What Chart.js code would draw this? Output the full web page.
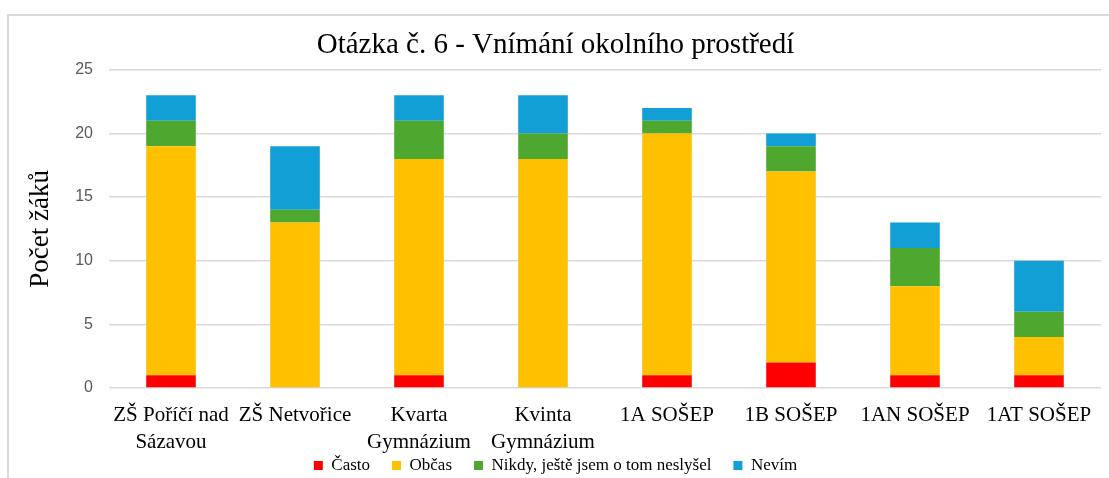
<!DOCTYPE html>
<html>
<head>
<meta charset="utf-8">
<script src="https://cdn.jsdelivr.net/npm/chart.js@4.4.1/dist/chart.umd.min.js"></script>
<style>
  html, body { margin: 0; padding: 0; background: #ffffff; }
  #wrap { position: relative; width: 1109px; height: 478px; overflow: hidden; }
  #frame { position: absolute; left: 7px; top: 14px; width: 1102px; height: 464px;
           border-left: 2px solid #d9d9d9; border-top: 2px solid #d9d9d9; box-sizing: border-box; }
  #box { position: absolute; left: 0; top: 0; width: 1109px; height: 478px; }
</style>
</head>
<body>
<div id="wrap">
  <div id="frame"></div>
  <div id="box"><canvas id="c"></canvas></div>
</div>
<script>
const categories = [
  ["ZŠ Poříčí nad", "Sázavou"],
  "ZŠ Netvořice",
  ["Kvarta", "Gymnázium"],
  ["Kvinta", "Gymnázium"],
  "1A SOŠEP",
  "1B SOŠEP",
  "1AN SOŠEP",
  "1AT SOŠEP"
];
const casto  = [1, 0, 1, 0, 1, 2, 1, 1];
const obcas  = [18, 13, 17, 18, 19, 15, 7, 3];
const nikdy  = [2, 1, 3, 2, 1, 2, 3, 2];
const nevim  = [2, 5, 2, 3, 1, 1, 2, 4];
const seriesNames = ["Často", "Občas", "Nikdy, ještě jsem o tom neslyšel", "Nevím"];
const seriesColors = ["#FF0000", "#FFC000", "#4EA72E", "#119FD6"];
const yTicks = [0, 5, 10, 15, 20, 25];
const chartTitle = "Otázka č. 6 - Vnímání okolního prostředí";
const yTitle = "Počet žáků";

const serif = "'Liberation Serif', 'Times New Roman', serif";
const sans = "'Liberation Sans', Arial, sans-serif";

const values = [casto, obcas, nikdy, nevim];
const datasets = values.map((v, i) => ({
  label: seriesNames[i],
  data: v,
  backgroundColor: seriesColors[i],
  borderWidth: 0,
  barPercentage: 0.4,
  categoryPercentage: 1.0
}));

new Chart(document.getElementById('c'), {
  type: 'bar',
  data: { labels: categories, datasets: datasets },
  options: {
    responsive: true,
    maintainAspectRatio: false,
    animation: false,
    layout: { padding: { left: 10, right: 8, top: 0, bottom: -6 } },
    plugins: {
      title: {
        display: true,
        text: chartTitle,
        color: '#000000',
        font: { family: serif, size: 29, weight: 'normal', lineHeight: 1.2 },
        padding: { top: 28, bottom: 7 }
      },
      legend: {
        display: true,
        position: 'bottom',
        title: {
          display: true,
          text: '',
          padding: 0,
          font: { family: serif, size: 47, lineHeight: 1 }
        },
        labels: {
          color: '#000000',
          font: { family: serif, size: 17 },
          boxWidth: 9,
          boxHeight: 9,
          padding: 22
        }
      },
      tooltip: { enabled: false }
    },
    scales: {
      x: {
        stacked: true,
        position: { y: 0 },
        grid: { display: false },
        border: { display: false },
        ticks: {
          color: '#000000',
          font: { family: serif, size: 21, lineHeight: 1.3 },
          padding: 6,
          autoSkip: false,
          maxRotation: 0,
          minRotation: 0
        }
      },
      y: {
        stacked: true,
        min: 0,
        max: 25,
        afterBuildTicks: (s) => { s.ticks = yTicks.map(v => ({ value: v })); },
        grid: { color: '#d9d9d9', lineWidth: 1.5, drawTicks: false },
        border: { display: false },
        ticks: {
          color: '#595959',
          font: { family: sans, size: 16 },
          padding: 16
        },
        title: {
          display: true,
          text: yTitle,
          color: '#000000',
          font: { family: serif, size: 27, lineHeight: 1.2 },
          padding: { top: 15, bottom: 0 }
        },
        afterFit: (s) => { s.width = 99; }
      }
    }
  }
});
</script>
</body>
</html>
